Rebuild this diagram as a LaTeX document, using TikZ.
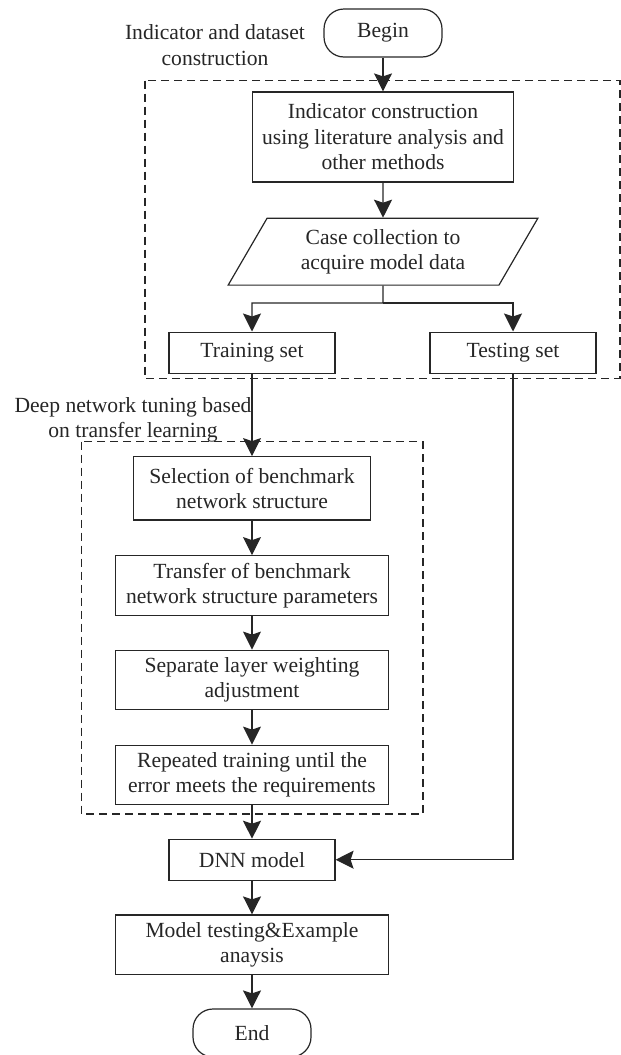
\documentclass[tikz,border=0pt]{standalone}
\usepackage{fontspec}
\setmainfont{Liberation Serif}
\usetikzlibrary{arrows.meta, shapes.geometric}

\begin{document}
\begin{tikzpicture}[x=0.5pt, y=-0.5pt,
		font=\fontsize{10.8pt}{12.75pt}\selectfont,
		color=black!85, line width=0.6pt,
		>={Stealth[length=9pt, width=9pt, inset=1.5pt]},
		box/.style={draw, rectangle, align=center, inner sep=2pt},
		term/.style={draw, rectangle, rounded corners=10pt, minimum width=59pt, minimum height=24pt},
		data/.style={draw, trapezium, trapezium left angle=63, trapezium right angle=117,
			trapezium stretches=true, align=center, minimum width=155pt, minimum height=33.4pt},
		group/.style={draw, dash pattern=on 4pt off 2.5pt},
		tag/.style={align=center}]
			\useasboundingbox (0,0) rectangle (621,1055);

			% first stage
			\node[term] (begin) at (383,33) {Begin};
			\node[tag] (tagA) at (215,45) {Indicator and dataset\\construction};
			\node[box, minimum width=130.5pt, minimum height=45pt] (indic) at (383,137)
				{Indicator construction\\using literature analysis and\\other methods};
			\node[data] (case) at (383,251.7) {Case collection to\\acquire model data};
			\coordinate (split) at (383,303);
			\node[box, minimum width=83pt, minimum height=20.6pt] (train) at (252,352.7) {Training set};
			\node[box, minimum width=83pt, minimum height=20.6pt] (test) at (513,352.7) {Testing set};
			\draw[group] (145,80.7) rectangle (620,378.3);

			% second stage
			\node[tag] (tagB) at (133,419.7) {Deep network tuning based\\on transfer learning};
			\node[box, minimum width=118.8pt, minimum height=31.6pt] (sel) at (252,488.3)
				{Selection of benchmark\\network structure};
			\node[box, minimum width=136.3pt, minimum height=29.8pt] (trans) at (252,585.5)
				{Transfer of benchmark\\network structure parameters};
			\node[box, minimum width=136.3pt, minimum height=29.8pt] (sep) at (252,680)
				{Separate layer weighting\\adjustment};
			\node[box, minimum width=136.3pt, minimum height=29.8pt] (rep) at (252,775)
				{Repeated training until the\\error meets the requirements};
			\draw[group] (81.4,441.7) rectangle (423,814);

			% result
			\node[box, minimum width=83pt, minimum height=20.4pt] (dnn) at (252,859.7) {DNN model};
			\node[box, minimum width=136.2pt, minimum height=29.7pt] (mt) at (252,944.7)
				{Model testing\&Example\\anaysis};
			\node[term] (end) at (252,1033) {End};

			\begin{scope}[->]
				\foreach \a/\b in {begin/indic, indic/case, train/sel, sel/trans, trans/sep, sep/rep, rep/dnn, dnn/mt, mt/end}
					\draw (\a) -- (\b);
				\draw (case.south) -- (split) -| (train.north);
				\draw (split) -| (test.north);
				\draw (test.south) |- (dnn.east);
			\end{scope}
		\end{tikzpicture}
\end{document}
